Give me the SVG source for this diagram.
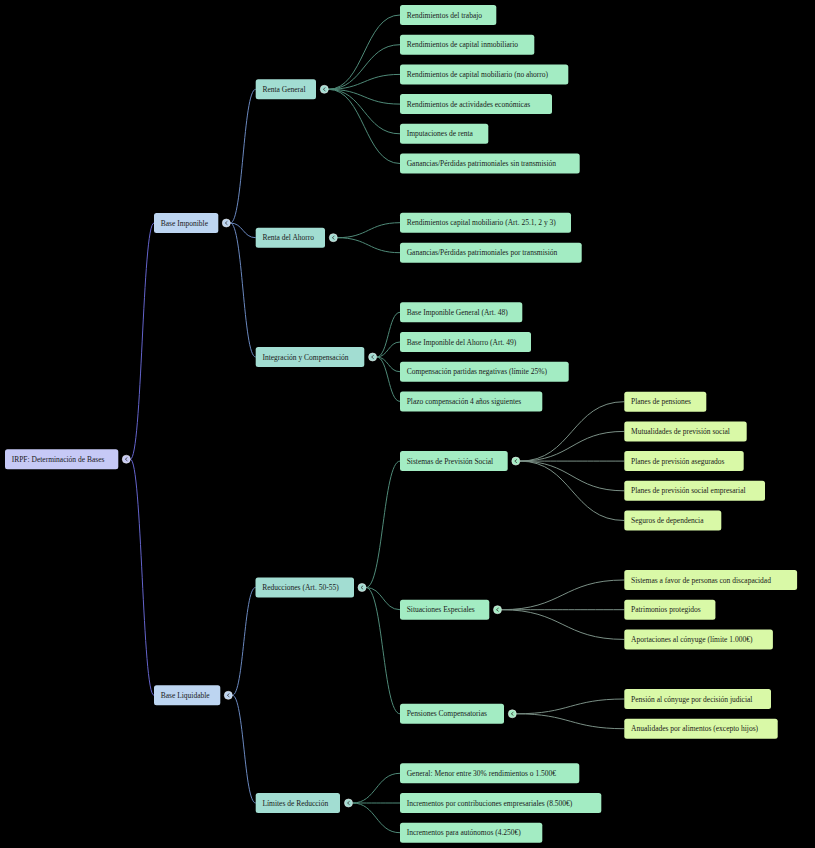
<svg xmlns="http://www.w3.org/2000/svg" width="815" height="848" viewBox="0 0 815 848">
<style>
text{font-family:"Liberation Serif","Times New Roman",serif;font-size:7.5px;fill:#1a1a1a}
.b0{fill:#c6c9f6}.b1{fill:#bdd5f1}.b2{fill:#a2ddd2}.b3{fill:#a3ecc3}.b4{fill:#d9f9a7}
.tg{fill:none;stroke-width:1}
.c0{stroke:#6464cc}.c1{stroke:#6a88bf}.c2{stroke:#4f8a78}.c3{stroke:#7a8f85}
.k{stroke:#e8e8e8;stroke-width:0.6}
.v{fill:none;stroke:#3a3a3a;stroke-width:0.8}
</style>
<defs>
<path id="chev" d="M1.1,-1.7 L-1,0 L1.1,1.7"/>
</defs>
<rect width="815" height="848" fill="#000"/>
<g id="connectors">
<g class="tg c0">
<path d="M130.3,459.2 C142.2,459.2 142.2,223 154,223"/>
<path d="M130.3,459.2 C142.2,459.2 142.2,695.3 154,695.3"/>
</g>
<g class="tg c1">
<path d="M230.3,223 C243,223 243,89.3 255.7,89.3"/>
<path d="M230.3,223 C243,223 243,237.7 255.7,237.7"/>
<path d="M230.3,223 C243,223 243,357 255.7,357"/>
<path d="M232.3,695.3 C243.9,695.3 243.9,587.5 255.5,587.5"/>
<path d="M232.3,695.3 C244,695.3 244,803 255.7,803"/>
</g>
<g class="tg c2">
<path d="M328.3,89.3 C364.2,89.3 364.2,15 400,15"/>
<path d="M328.3,89.3 C364.2,89.3 364.2,44.7 400,44.7"/>
<path d="M328.3,89.3 C364.2,89.3 364.2,74.4 400,74.4"/>
<path d="M328.3,89.3 C364.2,89.3 364.2,104.1 400,104.1"/>
<path d="M328.3,89.3 C364.2,89.3 364.2,133.8 400,133.8"/>
<path d="M328.3,89.3 C364.2,89.3 364.2,163.5 400,163.5"/>
<path d="M337.3,237.7 C368.6,237.7 368.6,222.7 400,222.7"/>
<path d="M337.3,237.7 C368.6,237.7 368.6,252.7 400,252.7"/>
<path d="M376.6,357 C388.3,357 388.3,312.3 400,312.3"/>
<path d="M376.6,357 C388.3,357 388.3,342 400,342"/>
<path d="M376.6,357 C388.3,357 388.3,371.7 400,371.7"/>
<path d="M376.6,357 C388.3,357 388.3,401.4 400,401.4"/>
<path d="M366,587.5 C383,587.5 383,461.1 400,461.1"/>
<path d="M366,587.5 C383,587.5 383,609.7 400,609.7"/>
<path d="M366,587.5 C383,587.5 383,713.8 400,713.8"/>
<path d="M352.5,803 C376.2,803 376.2,773.3 400,773.3"/>
<path d="M352.5,803 C376.2,803 376.2,803 400,803"/>
<path d="M352.5,803 C376.2,803 376.2,832.7 400,832.7"/>
</g>
<g class="tg c3">
<path d="M519.8,461.1 C572,461.1 572,401.7 624.3,401.7"/>
<path d="M519.8,461.1 C572,461.1 572,431.4 624.3,431.4"/>
<path d="M519.8,461.1 C572,461.1 572,461.1 624.3,461.1"/>
<path d="M519.8,461.1 C572,461.1 572,490.8 624.3,490.8"/>
<path d="M519.8,461.1 C572,461.1 572,520.5 624.3,520.5"/>
<path d="M501.5,609.7 C562.9,609.7 562.9,580 624.3,580"/>
<path d="M501.5,609.7 C562.9,609.7 562.9,609.7 624.3,609.7"/>
<path d="M501.5,609.7 C562.9,609.7 562.9,639.4 624.3,639.4"/>
<path d="M516.3,713.8 C570.3,713.8 570.3,699 624.3,699"/>
<path d="M516.3,713.8 C570.3,713.8 570.3,728.7 624.3,728.7"/>
</g>
</g>

<g id="root">
<rect class="b0" x="5" y="449.2" width="113.3" height="20" rx="2.5"/>
<text x="11.7" y="461.8">IRPF: Determinación de Bases</text>
<circle class="b0 k" cx="126.3" cy="459.2" r="4"/><use href="#chev" class="v" x="126.3" y="459.2"/>
</g>

<g id="base-imponible">
<rect class="b1" x="154" y="213" width="64.3" height="20" rx="2.5"/>
<text x="160.7" y="225.6">Base Imponible</text>
<circle class="b1 k" cx="226.3" cy="223" r="4"/><use href="#chev" class="v" x="226.3" y="223"/>
</g>
<g id="base-liquidable">
<rect class="b1" x="154" y="685.3" width="66.3" height="20" rx="2.5"/>
<text x="160.7" y="697.9">Base Liquidable</text>
<circle class="b1 k" cx="228.3" cy="695.3" r="4"/><use href="#chev" class="v" x="228.3" y="695.3"/>
</g>

<g id="renta-general">
<rect class="b2" x="255.7" y="79.3" width="60.3" height="20" rx="2.5"/>
<text x="262.4" y="91.9">Renta General</text>
<circle class="b2 k" cx="324.3" cy="89.3" r="4"/><use href="#chev" class="v" x="324.3" y="89.3"/>
</g>
<g id="renta-ahorro">
<rect class="b2" x="255.7" y="227.7" width="69.3" height="20" rx="2.5"/>
<text x="262.4" y="240.3">Renta del Ahorro</text>
<circle class="b2 k" cx="333.3" cy="237.7" r="4"/><use href="#chev" class="v" x="333.3" y="237.7"/>
</g>
<g id="integracion">
<rect class="b2" x="255.7" y="347" width="108.6" height="20" rx="2.5"/>
<text x="262.4" y="359.6">Integración y Compensación</text>
<circle class="b2 k" cx="372.6" cy="357" r="4"/><use href="#chev" class="v" x="372.6" y="357"/>
</g>
<g id="reducciones">
<rect class="b2" x="255.5" y="577.5" width="98.5" height="20" rx="2.5"/>
<text x="262.2" y="590.1">Reducciones (Art. 50-55)</text>
<circle class="b2 k" cx="362" cy="587.5" r="4"/><use href="#chev" class="v" x="362" y="587.5"/>
</g>
<g id="limites">
<rect class="b2" x="255.7" y="793" width="84.3" height="20" rx="2.5"/>
<text x="262.4" y="805.6">Límites de Reducción</text>
<circle class="b2 k" cx="348.5" cy="803" r="4"/><use href="#chev" class="v" x="348.5" y="803"/>
</g>

<g id="rg-1"><rect class="b3" x="400" y="5" width="96.3" height="20" rx="2.5"/><text x="406.7" y="17.6">Rendimientos del trabajo</text></g>
<g id="rg-2"><rect class="b3" x="400" y="34.7" width="134.3" height="20" rx="2.5"/><text x="406.7" y="47.3">Rendimientos de capital inmobiliario</text></g>
<g id="rg-3"><rect class="b3" x="400" y="64.4" width="168.3" height="20" rx="2.5"/><text x="406.7" y="77">Rendimientos de capital mobiliario (no ahorro)</text></g>
<g id="rg-4"><rect class="b3" x="400" y="94.1" width="152" height="20" rx="2.5"/><text x="406.7" y="106.7">Rendimientos de actividades económicas</text></g>
<g id="rg-5"><rect class="b3" x="400" y="123.8" width="88.3" height="20" rx="2.5"/><text x="406.7" y="136.4">Imputaciones de renta</text></g>
<g id="rg-6"><rect class="b3" x="400" y="153.5" width="179.7" height="20" rx="2.5"/><text x="406.7" y="166.1">Ganancias/Pérdidas patrimoniales sin transmisión</text></g>

<g id="ra-1"><rect class="b3" x="400" y="212.7" width="171" height="20" rx="2.5"/><text x="406.7" y="225.3">Rendimientos capital mobiliario (Art. 25.1, 2 y 3)</text></g>
<g id="ra-2"><rect class="b3" x="400" y="242.7" width="181.7" height="20" rx="2.5"/><text x="406.7" y="255.3">Ganancias/Pérdidas patrimoniales por transmisión</text></g>

<g id="ic-1"><rect class="b3" x="400" y="302.3" width="122.3" height="20" rx="2.5"/><text x="406.7" y="314.9">Base Imponible General (Art. 48)</text></g>
<g id="ic-2"><rect class="b3" x="400" y="332" width="131" height="20" rx="2.5"/><text x="406.7" y="344.6">Base Imponible del Ahorro (Art. 49)</text></g>
<g id="ic-3"><rect class="b3" x="400" y="361.7" width="168.7" height="20" rx="2.5"/><text x="406.7" y="374.3">Compensación partidas negativas (límite 25%)</text></g>
<g id="ic-4"><rect class="b3" x="400" y="391.4" width="142.3" height="20" rx="2.5"/><text x="406.7" y="404">Plazo compensación 4 años siguientes</text></g>

<g id="sistemas">
<rect class="b3" x="400" y="451.1" width="107.7" height="20" rx="2.5"/>
<text x="406.7" y="463.7">Sistemas de Previsión Social</text>
<circle class="b3 k" cx="515.8" cy="461.1" r="4"/><use href="#chev" class="v" x="515.8" y="461.1"/>
</g>
<g id="situaciones">
<rect class="b3" x="400" y="599.7" width="89.3" height="20" rx="2.5"/>
<text x="406.7" y="612.3">Situaciones Especiales</text>
<circle class="b3 k" cx="497.5" cy="609.7" r="4"/><use href="#chev" class="v" x="497.5" y="609.7"/>
</g>
<g id="pensiones">
<rect class="b3" x="400" y="703.8" width="104" height="20" rx="2.5"/>
<text x="406.7" y="716.4">Pensiones Compensatorias</text>
<circle class="b3 k" cx="512.3" cy="713.8" r="4"/><use href="#chev" class="v" x="512.3" y="713.8"/>
</g>

<g id="lim-1"><rect class="b3" x="400" y="763.3" width="179.3" height="20" rx="2.5"/><text x="406.7" y="775.9">General: Menor entre 30% rendimientos o 1.500€</text></g>
<g id="lim-2"><rect class="b3" x="400" y="793" width="201.3" height="20" rx="2.5"/><text x="406.7" y="805.6">Incrementos por contribuciones empresariales (8.500€)</text></g>
<g id="lim-3"><rect class="b3" x="400" y="822.7" width="142.3" height="20" rx="2.5"/><text x="406.7" y="835.3">Incrementos para autónomos (4.250€)</text></g>

<g id="sps-1"><rect class="b4" x="624.3" y="391.7" width="82" height="20" rx="2.5"/><text x="631" y="404.3">Planes de pensiones</text></g>
<g id="sps-2"><rect class="b4" x="624.3" y="421.4" width="122.4" height="20" rx="2.5"/><text x="631" y="434">Mutualidades de previsión social</text></g>
<g id="sps-3"><rect class="b4" x="624.3" y="451.1" width="119.4" height="20" rx="2.5"/><text x="631" y="463.7">Planes de previsión asegurados</text></g>
<g id="sps-4"><rect class="b4" x="624.3" y="480.8" width="140.7" height="20" rx="2.5"/><text x="631" y="493.4">Planes de previsión social empresarial</text></g>
<g id="sps-5"><rect class="b4" x="624.3" y="510.5" width="97" height="20" rx="2.5"/><text x="631" y="523.1">Seguros de dependencia</text></g>

<g id="se-1"><rect class="b4" x="624.3" y="570" width="172.8" height="20" rx="2.5"/><text x="631" y="582.6">Sistemas a favor de personas con discapacidad</text></g>
<g id="se-2"><rect class="b4" x="624.3" y="599.7" width="91.1" height="20" rx="2.5"/><text x="631" y="612.3">Patrimonios protegidos</text></g>
<g id="se-3"><rect class="b4" x="624.3" y="629.4" width="148.6" height="20" rx="2.5"/><text x="631" y="642">Aportaciones al cónyuge (límite 1.000€)</text></g>

<g id="pc-1"><rect class="b4" x="624.3" y="689" width="146.7" height="20" rx="2.5"/><text x="631" y="701.6">Pensión al cónyuge por decisión judicial</text></g>
<g id="pc-2"><rect class="b4" x="624.3" y="718.7" width="153.4" height="20" rx="2.5"/><text x="631" y="731.3">Anualidades por alimentos (excepto hijos)</text></g>
</svg>
